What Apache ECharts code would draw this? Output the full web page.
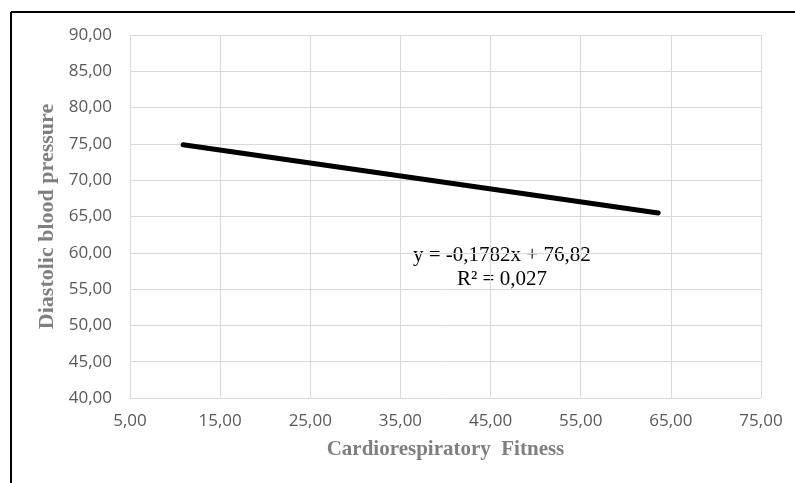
<!DOCTYPE html>
<html>
<head>
<meta charset="utf-8">
<script src="https://cdn.jsdelivr.net/npm/echarts@6/dist/echarts.min.js"></script>
<style>
  html, body { margin: 0; padding: 0; background: #fff; }
  #chart { width: 795px; height: 483px; }
</style>
</head>
<body>
<div id="chart"></div>
<script>
// Linear trend of diastolic blood pressure against cardiorespiratory fitness
const trendX = [10.9, 63.6];
const trendY = [74.88, 65.49];
const xTicks = [5, 15, 25, 35, 45, 55, 65, 75];
const yTicks = [40, 45, 50, 55, 60, 65, 70, 75, 80, 85, 90];
const equationText = 'y = -0,1782x + 76,82';
const r2Text = 'R² = 0,027';

// The x axis starts at 5 with a step of 10; the axis runs on an offset scale
// so the ticks land on 5, 15, 25, ...
const xOffset = xTicks[0];
const xStep = xTicks[1] - xTicks[0];
const fmt = v => v.toFixed(2).replace('.', ',');

const chart = echarts.init(document.getElementById('chart'));
chart.setOption({
  backgroundColor: '#ffffff',
  animation: false,
  grid: { left: 130, right: 34, top: 35, bottom: 85 },
  xAxis: {
    type: 'value',
    min: 0,
    max: xTicks[xTicks.length - 1] - xOffset,
    interval: xStep,
    name: 'Cardiorespiratory  Fitness',
    nameLocation: 'middle',
    nameGap: 41,
    nameTextStyle: { fontFamily: 'Liberation Serif', fontWeight: 'bold', fontSize: 21, color: '#7f7f7f' },
    axisLine: { show: true, lineStyle: { color: '#d9d9d9', width: 1 } },
    axisTick: { show: false },
    axisLabel: {
      margin: 15,
      fontFamily: 'Open Sans', fontSize: 17, color: '#595959',
      formatter: v => fmt(v + xOffset)
    },
    splitLine: { show: true, lineStyle: { color: '#d9d9d9', width: 1 } }
  },
  yAxis: {
    type: 'value',
    min: yTicks[0],
    max: yTicks[yTicks.length - 1],
    interval: yTicks[1] - yTicks[0],
    name: 'Diastolic blood pressure',
    nameLocation: 'middle',
    nameGap: 71,
    nameTextStyle: { fontFamily: 'Liberation Serif', fontWeight: 'bold', fontSize: 22, color: '#7f7f7f' },
    axisLine: { show: false },
    axisTick: { show: false },
    axisLabel: {
      margin: 18,
      fontFamily: 'Open Sans', fontSize: 17, color: '#595959',
      formatter: v => fmt(v)
    },
    splitLine: { show: true, lineStyle: { color: '#d9d9d9', width: 1 } }
  },
  series: [{
    type: 'line',
    data: trendX.map((x, i) => [x - xOffset, trendY[i]]),
    symbol: 'none',
    lineStyle: { color: '#000000', width: 5, cap: 'round' },
    silent: true
  }],
  graphic: [
    { type: 'line', shape: { x1: 11, y1: 12, x2: 795, y2: 12 }, style: { stroke: '#000', lineWidth: 2 } },
    { type: 'line', shape: { x1: 11, y1: 12, x2: 11, y2: 483 }, style: { stroke: '#000', lineWidth: 2 } },
    {
      type: 'text', left: 413, top: 245,
      style: { text: equationText, fontFamily: 'Liberation Serif', fontSize: 21, fill: '#000' }
    },
    {
      type: 'text', left: 457, top: 269,
      style: { text: r2Text, fontFamily: 'Liberation Serif', fontSize: 21, fill: '#000' }
    }
  ]
});
</script>
</body>
</html>
